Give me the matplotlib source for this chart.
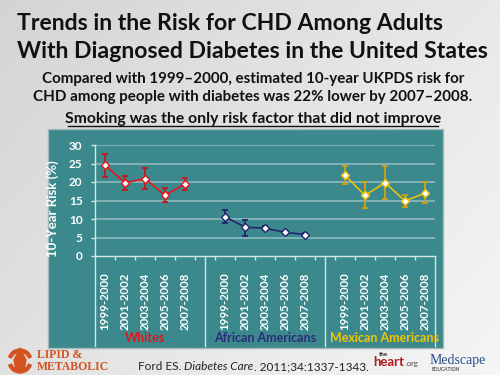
import numpy as np
import matplotlib.pyplot as plt
from matplotlib.patches import Rectangle, Wedge, Polygon

# Data
periods = ["1999-2000", "2001-2002", "2003-2004", "2005-2006", "2007-2008"]
groups = ["Whites", "African Americans", "Mexican Americans"]

whites = [24.5, 19.8, 20.9, 16.4, 19.5]
whites_lo = [21.3, 17.8, 18.2, 14.5, 17.8]
whites_hi = [27.6, 21.7, 23.8, 18.3, 21.1]

afr_am = [10.6, 7.8, 7.5, 6.4, 5.8]
afr_am_lo = [8.8, 5.5, 6.9, 6.0, 5.5]
afr_am_hi = [12.3, 9.8, 8.1, 6.8, 6.1]

mex_am = [21.8, 16.4, 19.8, 14.9, 17.0]
mex_am_lo = [19.4, 13.0, 15.4, 13.3, 14.2]
mex_am_hi = [24.4, 19.9, 24.4, 16.4, 19.9]

series = [whites, afr_am, mex_am]
lows = [whites_lo, afr_am_lo, mex_am_lo]
highs = [whites_hi, afr_am_hi, mex_am_hi]
colors = ["#E3151B", "#23256E", "#EDBE0E"]
bar_colors = ["#C8161C", "#23256E", "#CFA312"]
label_colors = ["#E3151B", "#2A2C7A", "#F5C400"]

FONT = "Lato"
TEAL = "#3C898D"
GRID = "#8DBABC"
AXIS = "#D6E6E7"

fig = plt.figure(figsize=(5, 3.75), dpi=100)

# Background layer in pixel coordinates
bg = fig.add_axes([0, 0, 1, 1], zorder=0)
xx, yy = np.meshgrid(np.linspace(0, 1, 200), np.linspace(0, 1, 150))
grad = 0.83 + 0.13 * (0.6 * xx + 0.4 * yy)
bg.imshow(grad, cmap="gray", vmin=0, vmax=1, extent=(0, 500, 375, 0), aspect="auto")
bg.set_xlim(0, 500)
bg.set_ylim(375, 0)
bg.axis("off")

# Teal panel
bg.add_patch(Rectangle((47.5, 129), 395.5, 219, facecolor=TEAL,
                       edgecolor="#9FB9BB", linewidth=1.0))

# Titles
bg.text(17, 30, "Trends in the Risk for CHD Among Adults", family=FONT,
        fontweight="bold", fontsize=16.6, ha="left", va="baseline", color="#111111")
bg.text(17, 58, "With Diagnosed Diabetes in the United States", family=FONT,
        fontweight="bold", fontsize=16.6, ha="left", va="baseline", color="#111111")
bg.text(253, 83, "Compared with 1999\u20132000, estimated 10-year UKPDS risk for",
        family=FONT, fontweight="bold", fontsize=10.9, ha="center", va="baseline",
        color="#111111")
bg.text(253, 101, "CHD among people with diabetes was 22% lower by 2007\u20132008.",
        family=FONT, fontweight="bold", fontsize=10.9, ha="center", va="baseline",
        color="#111111")
bg.text(253, 123, "Smoking was the only risk factor that did not improve",
        family=FONT, fontweight="bold", fontsize=11.3, ha="center",
        va="baseline", color="#111111")
bg.plot([68, 438], [126, 126], color="#111111", linewidth=1.0)

# Citation, pieces chained so they sit side by side
c1 = bg.text(138, 372, "Ford ES. ", family=FONT, fontsize=8.5, ha="left",
             va="bottom", color="#222222")
c2 = bg.annotate("Diabetes Care", xy=(1, 0), xycoords=c1, family=FONT,
                 fontsize=8.5, style="italic", ha="left", va="bottom",
                 color="#222222")
bg.annotate(". 2011;34:1337-1343.", xy=(1, 0), xycoords=c2, family=FONT,
            fontsize=8.5, ha="left", va="bottom", color="#222222")

# Logos
logo = "#D4521F"
bg.add_patch(Wedge((20, 361), 12, 200, 340, width=3, color=logo))
bg.add_patch(Wedge((20, 361), 12, 20, 160, width=3, color=logo))
bg.add_patch(Polygon([(20, 348), (26, 360), (24, 370), (16, 370), (14, 360)],
                     closed=True, color=logo))
bg.text(37, 358, "LIPID &", family="Liberation Serif", fontweight="bold",
        fontsize=8.5, ha="left", va="baseline", color=logo)
bg.text(37, 370, "METABOLIC", family="Liberation Serif", fontweight="bold",
        fontsize=8.5, ha="left", va="baseline", color=logo)

bg.text(383, 356, "the", family=FONT, fontweight="bold", fontsize=4.5,
        ha="center", va="baseline", color="#222222")
bg.text(373, 366, "heart", family=FONT, fontweight="bold", fontsize=9.5,
        ha="left", va="baseline", color="#B01A1E")
bg.text(406, 366, ".org", family=FONT, fontsize=5.5, ha="left",
        va="baseline", color="#444444")
bg.text(430, 364, "Medscape", family="Liberation Serif", fontsize=10,
        ha="left", va="baseline", color="#2B4F8C")
bg.text(432, 371, "EDUCATION", family=FONT, fontweight="bold", fontsize=3.5,
        ha="left", va="baseline", color="#555555")

# Chart axes
ax = fig.add_axes([95 / 500, 1 - 256 / 375, 340 / 500, 111 / 375], zorder=2)
ax.patch.set_alpha(0)
ax.set_xlim(-0.5, 16.5)
ax.set_ylim(0, 30)

positions = []
tick_labels = []
for g in range(3):
    xs = np.arange(5) + g * 6
    positions.extend(xs)
    tick_labels.extend(periods)
    vals = np.array(series[g])
    yerr = [vals - np.array(lows[g]), np.array(highs[g]) - vals]
    ax.errorbar(xs, vals, yerr=yerr, fmt="none", ecolor=bar_colors[g],
                elinewidth=1.3, capsize=2.5, capthick=1.3, zorder=3)
    ax.plot(xs, vals, color=colors[g], linewidth=1.2, zorder=4)
    ax.plot(xs, vals, linestyle="none", marker="D", markersize=4.5,
            markerfacecolor="white", markeredgecolor=colors[g],
            markeredgewidth=1.0, zorder=5)

for yv in range(5, 31, 5):
    ax.axhline(yv, color=GRID, linewidth=1.2, zorder=1)

for s in ["top", "right"]:
    ax.spines[s].set_visible(False)
ax.spines["left"].set_color(AXIS)
ax.spines["bottom"].set_color(AXIS)
ax.spines["left"].set_linewidth(1.0)
ax.spines["bottom"].set_linewidth(1.0)

ax.set_yticks(range(0, 31, 5))
ax.tick_params(axis="y", colors=AXIS, length=3, width=1.0, pad=6)
for lab in ax.get_yticklabels():
    lab.set_color("white")
    lab.set_family(FONT)
    lab.set_fontweight("bold")
    lab.set_fontsize(8.5)

ax.set_xticks(positions)
ax.set_xticklabels(tick_labels, rotation=90, family=FONT, fontweight="bold",
                   fontsize=8.3, color="white")
ax.tick_params(axis="x", length=0, pad=12)
ax.set_xticks(np.arange(0.5, 16, 1), minor=True)
ax.tick_params(axis="x", which="minor", length=3, width=1.0, color=AXIS)

# Group dividers running down through the label area
for xd in [-0.5, 5, 11, 16.5]:
    ax.plot([xd, xd], [0, -0.81], transform=ax.get_xaxis_transform(),
            color=AXIS, linewidth=1.0, clip_on=False, zorder=2)

for g in range(3):
    ax.text(g * 6 + 2, -0.74, groups[g], transform=ax.get_xaxis_transform(),
            ha="center", va="center", family=FONT, fontweight="bold",
            fontsize=9, color=label_colors[g])

ax.set_ylabel("10-Year Risk (%)", family=FONT, fontweight="bold",
              fontsize=9.5, color="white")
ax.yaxis.set_label_coords(-0.106, 0.43)

fig.savefig("out.png", dpi=100)
